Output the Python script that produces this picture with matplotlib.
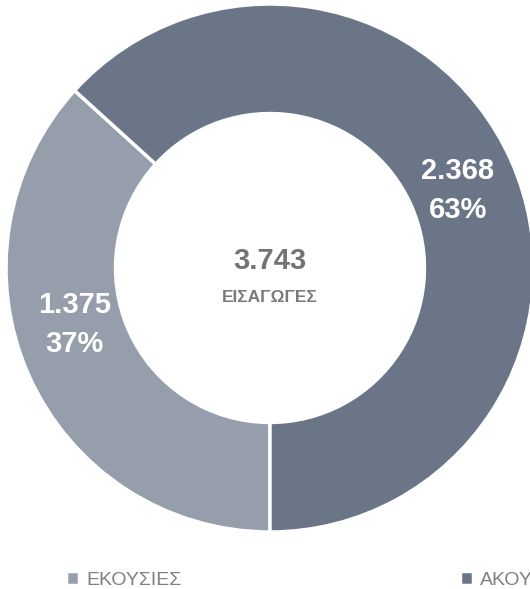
import numpy as np
import matplotlib
matplotlib.use("Agg")
import matplotlib.pyplot as plt

plt.rcParams['font.family'] = ['Liberation Sans', 'DejaVu Sans']

# data
categories = ["ΕΚΟΥΣΙΕΣ", "ΑΚΟΥΣΙΕΣ"]
values = [1375, 2368]
value_labels = ["1.375", "2.368"]
pct_labels = ["37%", "63%"]
total_label = "3.743"
center_title = "ΕΙΣΑΓΩΓΕΣ"
colors = ["#979EAB", "#6A7587"]

fig = plt.figure(figsize=(5.30, 5.89), dpi=100)
W, H = 530, 589
cx, cy, R = 270, 321, 264   # pixel centre (from bottom) and radius
ax = fig.add_axes([(cx - R) / W, (cy - R) / H, 2 * R / W, 2 * R / H])

wedges, _ = ax.pie(values, colors=colors, startangle=-90, counterclock=False,
                   radius=1.0, wedgeprops=dict(width=0.415, edgecolor="white", linewidth=2.5))
ax.set_xlim(-1, 1)
ax.set_ylim(-1, 1)
ax.set_aspect("equal")
ax.axis("off")

# data labels in the middle of the ring (small nudge, like excel)
nudge = [-7.7, -1.4]
for w, v, p, d in zip(wedges, value_labels, pct_labels, nudge):
    ang = np.deg2rad((w.theta1 + w.theta2) / 2 + d)
    r = 0.77
    ax.text(r * np.cos(ang), r * np.sin(ang), v + "\n" + p, ha="center", va="center",
            color="white", fontsize=21, fontweight="bold", linespacing=1.5)

ax.text(0, 0.025, total_label, ha="center", va="center", color="#737373",
        fontsize=21, fontweight="bold")
ax.text(0, -0.11, center_title, ha="center", va="center", color="#7A7A7A",
        fontsize=12.5, fontweight="bold")

fig.legend(wedges, categories, loc="center left", bbox_to_anchor=(58 / W, 1 - 580 / H),
           ncol=2, frameon=False, fontsize=14, labelcolor="#808080",
           handlelength=0.7, handleheight=0.7, handletextpad=0.35,
           columnspacing=14.3, borderaxespad=0)

fig.savefig("out.png", dpi=100)
